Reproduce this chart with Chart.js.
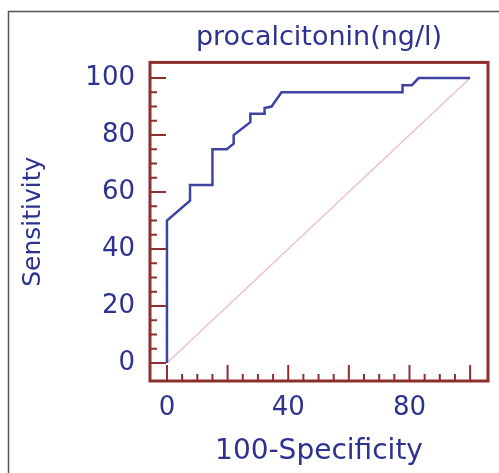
<!DOCTYPE html>
<html>
<head>
<meta charset="utf-8">
<script src="https://cdn.jsdelivr.net/npm/chart.js@4"></script>
<style>
  html, body { margin: 0; padding: 0; background: #fff; }
  canvas { display: block; }
</style>
</head>
<body>
<canvas id="chart" width="499" height="473"></canvas>
<script>
// ROC curve
var fpr = [0, 0, 7.6, 7.6, 15, 15, 19.7, 22, 22, 27.5, 27.5, 32.2, 32.2, 34.5, 37.8, 77.7, 77.7, 80.8, 83, 100];
var sens = [0, 50, 57, 62.5, 62.5, 75, 75, 77, 80, 84.5, 87.5, 87.5, 89.5, 90, 95, 95, 97.5, 97.5, 100, 100];
var refX = [0, 100];
var refY = [0, 100];

var xTickLabels = [0, 40, 80];
var yTickLabels = [0, 20, 40, 60, 80, 100];
var minorTicks = [0, 5, 10, 15, 20, 25, 30, 35, 40, 45, 50, 55, 60, 65, 70, 75, 80, 85, 90, 95, 100];

var textColor = '#2d3190';
var frameColor = '#8e2f2f';

var frame = {
  id: 'frame',
  beforeDraw: function (chart) {
    var c = chart.ctx;
    c.save();
    c.strokeStyle = '#555';
    c.lineWidth = 1.5;
    c.beginPath();
    c.moveTo(8.5, 473);
    c.lineTo(8.5, 11.5);
    c.lineTo(499, 11.5);
    c.stroke();
    c.restore();
  },
  afterDatasetsDraw: function (chart) {
    var c = chart.ctx;
    var a = chart.chartArea;
    var xs = chart.scales.x, ys = chart.scales.y;
    c.save();
    c.strokeStyle = frameColor;
    c.lineWidth = 2;
    c.beginPath();
    minorTicks.forEach(function (v) {
      var len = v % 20 === 0 ? 16 : 7;
      var px = xs.getPixelForValue(v);
      c.moveTo(px, a.bottom);
      c.lineTo(px, a.bottom - len);
      var py = ys.getPixelForValue(v);
      c.moveTo(a.left, py);
      c.lineTo(a.left + len, py);
    });
    c.stroke();
    c.lineWidth = 3;
    c.strokeRect(a.left, a.top, a.right - a.left, a.bottom - a.top);
    c.restore();
  }
};

var config = {
  type: 'line',
  data: {
    datasets: [{
      data: fpr.map(function (x, i) { return { x: x, y: sens[i] }; }),
      borderColor: '#3d42a3',
      borderWidth: 2.5,
      pointRadius: 0,
      tension: 0
    }, {
      data: refX.map(function (x, i) { return { x: x, y: refY[i] }; }),
      borderColor: '#ebc2c2',
      borderWidth: 1.5,
      pointRadius: 0
    }]
  },
  options: {
    responsive: false,
    animation: false,
    layout: { padding: { top: 0, right: 11, left: 0, bottom: 0 } },
    plugins: {
      legend: { display: false },
      tooltip: { enabled: false },
      title: {
        display: true,
        text: 'procalcitonin(ng/l)',
        color: textColor,
        fullSize: false,
        font: { family: 'DejaVu Sans', size: 27, weight: 'normal', lineHeight: 1.2 },
        padding: { top: 22, bottom: 8 }
      }
    },
    scales: {
      x: {
        type: 'linear',
        min: -5.6,
        max: 105.9,
        afterFit: function (s) { s.height = 92; },
        afterBuildTicks: function (s) { s.ticks = xTickLabels.map(function (v) { return { value: v }; }); },
        grid: { display: false, drawTicks: false },
        border: { display: false },
        ticks: {
          color: textColor,
          maxRotation: 0,
          padding: 12,
          font: { family: 'DejaVu Sans', size: 26 }
        },
        title: {
          display: true,
          text: '100-Specificity',
          color: textColor,
          font: { family: 'DejaVu Sans', size: 28, lineHeight: 1.2 },
          padding: { top: 0, bottom: 4 }
        }
      },
      y: {
        type: 'linear',
        min: -6.3,
        max: 105.5,
        afterFit: function (s) { s.width = 150; },
        afterBuildTicks: function (s) { s.ticks = yTickLabels.map(function (v) { return { value: v }; }); },
        grid: { display: false, drawTicks: false },
        border: { display: false },
        ticks: {
          color: textColor,
          padding: 15,
          font: { family: 'DejaVu Sans', size: 26 }
        },
        title: {
          display: true,
          text: 'Sensitivity',
          color: textColor,
          font: { family: 'DejaVu Sans', size: 25, lineHeight: 1.2 },
          padding: { top: 18, bottom: 0 }
        }
      }
    }
  },
  plugins: [frame]
};

window.onload = function () {
  var ctx = document.getElementById('chart');
  window.myChart = new Chart(ctx, config);
};
</script>
</body>
</html>
